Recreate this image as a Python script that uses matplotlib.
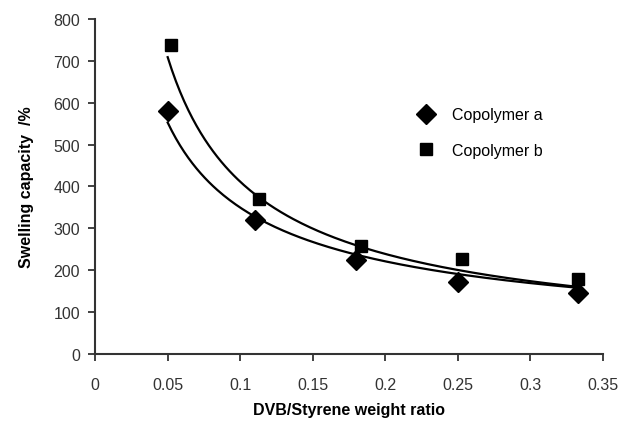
import matplotlib
matplotlib.use("Agg")
import matplotlib.pyplot as plt
import numpy as np

plt.rcParams['font.family'] = ['Liberation Sans', 'DejaVu Sans']

# DVB/Styrene weight ratio
ratio_a = [0.05, 0.11, 0.18, 0.25, 0.333]
swell_a = [580, 320, 225, 172, 145]
ratio_b = [0.052, 0.113, 0.183, 0.253, 0.333]
swell_b = [737, 370, 258, 227, 179]

# power trendlines y = c * x^k
trend_a = (76.3, -0.661)
trend_b = (67.5, -0.785)
trend_range = (0.05, 0.333)

x_ticks = [0, 0.05, 0.1, 0.15, 0.2, 0.25, 0.3, 0.35]
x_labels = ['0', '0.05', '0.1', '0.15', '0.2', '0.25', '0.3', '0.35']
y_ticks = [0, 100, 200, 300, 400, 500, 600, 700, 800]


fig = plt.figure(figsize=(6.22, 4.27), dpi=100)
ax = fig.add_axes([0.153, 0.169, 0.816, 0.784])

xs = np.linspace(trend_range[0], trend_range[1], 200)
for c, k in (trend_a, trend_b):
    ax.plot(xs, c * xs ** k, color='black', lw=1.6)

ax.plot(ratio_a, swell_a, 'D', color='black', ms=10, label='Copolymer a')
ax.plot(ratio_b, swell_b, 's', color='black', ms=9, label='Copolymer b')

ax.set_xlim(0, 0.35)
ax.set_ylim(0, 800)
ax.set_xticks(x_ticks)
ax.set_xticklabels(x_labels)
ax.set_yticks(y_ticks)
for s in ['top', 'right']:
    ax.spines[s].set_visible(False)
for s in ['left', 'bottom']:
    ax.spines[s].set_linewidth(1.5)
    ax.spines[s].set_color('#333333')
ax.tick_params(direction='out', length=5, width=1.3, colors='#333333',
               labelsize=11.5, pad=6)
ax.tick_params(axis='x', pad=12)

ax.set_xlabel('DVB/Styrene weight ratio', fontsize=11.5, fontweight='bold',
              labelpad=7)
ax.set_ylabel('Swelling capacity  /%', fontsize=11.5, fontweight='bold',
              labelpad=14)

ax.legend(loc='upper left', bbox_to_anchor=(0.593, 0.78), frameon=False,
          fontsize=11.5, handletextpad=0.6, labelspacing=1.3)

fig.savefig('out.png', dpi=100)
